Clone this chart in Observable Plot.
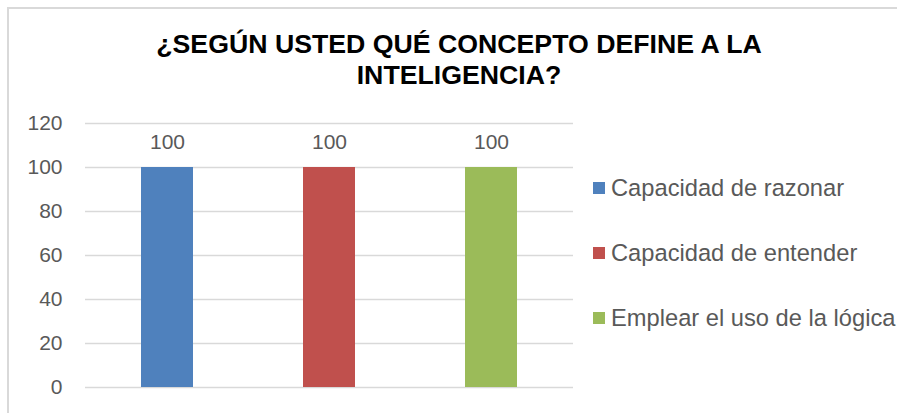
<!DOCTYPE html>
<html>
<head>
<meta charset="utf-8">
<script src="https://cdn.jsdelivr.net/npm/d3@7"></script>
<script src="https://cdn.jsdelivr.net/npm/@observablehq/plot@0.6"></script>
<style>
  body { margin: 0; background: #fff; }
  #chart { position: relative; width: 897px; height: 413px; overflow: hidden; background: #fff;
           font-family: "Liberation Sans", Arial, sans-serif; }
  #frame { position: absolute; left: 7px; top: 7px; width: 1000px; height: 1000px;
           border-left: 2px solid #d9d9d9; border-top: 2px solid #d9d9d9; pointer-events: none; }
  #title { position: absolute; left: 0; top: 29px; width: 918px; text-align: center;
           font-weight: bold; font-size: 26.7px; line-height: 31px; color: #000; }
  #plot { position: absolute; left: 0; top: 100px; }
  #legend { position: absolute; left: 593px; top: 155.5px; }
  .item { display: flex; align-items: center; height: 65px; font-size: 23.7px; color: #595959; white-space: nowrap; }
  .sw { width: 12px; height: 12px; margin-right: 6px; flex: none; }
</style>
</head>
<body>
<div id="chart">
  <div id="frame"></div>
  <div id="title"></div>
  <div id="plot"></div>
  <div id="legend"></div>
</div>
<script>
const titleLines = ["¿SEGÚN USTED QUÉ CONCEPTO DEFINE A LA", "INTELIGENCIA?"];
const categories = ["Capacidad de razonar", "Capacidad de entender", "Emplear el uso de la lógica"];
const values = [100, 100, 100];
const colors = ["#4f81bd", "#c0504d", "#9bbb59"];
const yTicks = [0, 20, 40, 60, 80, 100, 120];

const data = categories.map((c, i) => ({category: c, value: values[i]}));

document.getElementById("title").innerHTML = titleLines.join("<br>");

const chart = Plot.plot({
  width: 897,
  height: 313,
  marginLeft: 85,
  marginRight: 324,
  marginTop: 23,
  marginBottom: 26,
  style: {fontFamily: '"Liberation Sans", Arial, sans-serif', fontSize: "21px", color: "#595959", background: "transparent"},
  x: {domain: categories, axis: null, paddingInner: 0.68, paddingOuter: 0.344},
  y: {domain: [0, 120]},
  color: {domain: categories, range: colors},
  marks: [
    Plot.gridY(yTicks, {stroke: "#d9d9d9", strokeOpacity: 1, strokeWidth: 1.5}),
    Plot.axisY(yTicks, {tickSize: 0, tickPadding: 23, fontSize: 21, fill: "#595959", label: null}),
    Plot.barY(data, {x: "category", y: "value", fill: "category"}),
    Plot.text(data, {x: "category", y: "value", text: d => String(d.value), dy: -25, fontSize: 21, fill: "#595959"})
  ]
});
document.getElementById("plot").appendChild(chart);

const legend = document.getElementById("legend");
categories.forEach((c, i) => {
  const row = document.createElement("div");
  row.className = "item";
  const sw = document.createElement("span");
  sw.className = "sw";
  sw.style.background = colors[i];
  const label = document.createElement("span");
  label.textContent = c;
  row.appendChild(sw);
  row.appendChild(label);
  legend.appendChild(row);
});
</script>
</body>
</html>
